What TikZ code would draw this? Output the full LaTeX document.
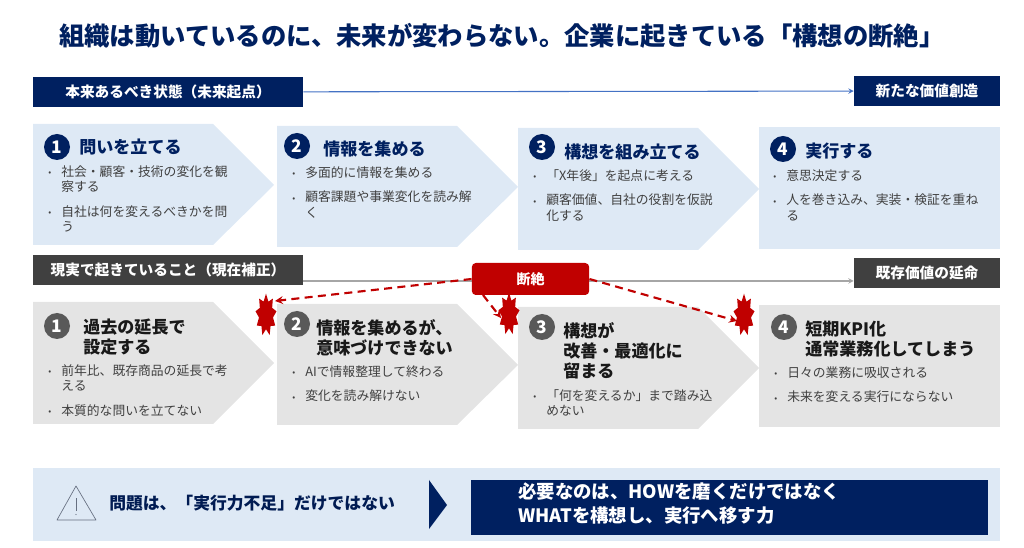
\documentclass[tikz,border=0pt]{standalone}
\usepackage{fontspec}
\setmainfont{Noto Sans CJK JP}
\usetikzlibrary{shapes.geometric}
\definecolor{navy}{HTML}{002060}
\definecolor{palefill}{HTML}{DEE9F5}
\definecolor{greyfill}{HTML}{E4E4E4}
\definecolor{darkbar}{HTML}{404040}
\definecolor{gapred}{HTML}{C00000}
\newcommand*{\Bul}{\makebox[9.8pt][l]{\raisebox{0.5pt}{\fontsize{6.5}{6.5}\selectfont\textbullet}}}
\newcommand*{\Ind}{\hspace*{9.8pt}}
\tikzset{
	barnavy/.style={fill=navy, text=white, inner sep=0pt, font=\fontsize{11}{13}\bfseries},
	bargrey/.style={fill=darkbar, text=white, inner sep=0pt, font=\fontsize{11}{13}\bfseries},
	numnavy/.style={circle, fill=navy, text=white, inner sep=0pt, minimum size=19.5pt, font=\fontsize{13}{13}\bfseries},
	numgrey/.style={circle, fill=black!65, text=white, inner sep=0pt, minimum size=19.5pt, font=\fontsize{13}{13}\bfseries},
	headnavy/.style={anchor=west, inner sep=0pt, text=navy, font=\fontsize{12.8}{15}\bfseries},
	headgrey/.style={anchor=west, inner sep=0pt, align=left, text=black!90, font=\fontsize{12.8}{15.2}\bfseries},
	item/.style={anchor=north west, inner sep=0pt, align=left, text=darkbar, font=\fontsize{9.6}{11.5}\selectfont},
	burst/.style={star, star points=9, star point ratio=1.5, fill=gapred, minimum size=32pt, xscale=.5, inner sep=0pt, transform shape},
	dasharrow/.style={draw=gapred, line width=1.6pt, dash pattern=on 6pt off 4pt, ->, >=stealth},
}
\begin{document}
\begin{tikzpicture}[x=.75pt, y=-.75pt]
	\useasboundingbox (0,0) rectangle (1024,548);
	\node[anchor=west, inner sep=0pt, text=navy, font=\fontsize{19}{22}\bfseries] (title) at (59,36) {組織は動いているのに、未来が変わらない。企業に起きている「構想の断絶」};

	% future row
	\node[barnavy, minimum width=202.5pt, minimum height=22.5pt] (future) at (168,92) {本来あるべき状態（未来起点）};
	\node[barnavy, minimum width=109.5pt, minimum height=22.5pt] (newvalue) at (927,91) {新たな価値創造};
	\draw[draw=blue!45!black!40!cyan!20!blue!60, color=black!0, draw={rgb,255:red,68;green,114;blue,196}, line width=.8pt, ->, >=stealth] (future) -- (newvalue);
	\fill[palefill] (33,124) -- (213,124) -- (274,185) -- (213,245) -- (33,245) -- cycle;
	\fill[palefill] (277,126) -- (457,126) -- (518,187) -- (457,247) -- (277,247) -- cycle;
	\fill[palefill] (518,128) -- (698,128) -- (759,189) -- (698,250) -- (518,250) -- cycle;
	\fill[palefill] (759,127) rectangle (1000,249);
	\node[numnavy] (n1) at (57,147) {1};
	\node[headnavy] (h1) at (79,147) {問いを立てる};
	\node[item] (t1) at (48,165) {\Bul 社会・顧客・技術の変化を観\\\Ind 察する\\[7pt]\Bul 自社は何を変えるべきかを問\\\Ind う};
	\node[numnavy] (n2) at (297,146) {2};
	\node[headnavy] (h2) at (323,149) {情報を集める};
	\node[item] (t2) at (292,166) {\Bul 多面的に情報を集める\\[7pt]\Bul 顧客課題や事業変化を読み解\\\Ind く};
	\node[numnavy] (n3) at (542,147) {3};
	\node[headnavy] (h3) at (564,152) {構想を組み立てる};
	\node[item] (t3) at (533,169) {\Bul 「X年後」を起点に考える\\[7pt]\Bul 顧客価値、自社の役割を仮説\\\Ind 化する};
	\node[numnavy] (n4) at (783,149) {4};
	\node[headnavy] (h4) at (805,151) {実行する};
	\node[item] (t4) at (773,169) {\Bul 意思決定する\\[7pt]\Bul 人を巻き込み、実装・検証を重ね\\\Ind る};

	% current row
	\node[bargrey, minimum width=202.5pt, minimum height=22.5pt] (current) at (168,270) {現実で起きていること（現在補正）};
	\node[bargrey, minimum width=109.5pt, minimum height=22.5pt] (oldvalue) at (927,273) {既存価値の延命};
	\draw[draw=black!35, line width=.8pt, ->, >=stealth] (303,281) -- (oldvalue.west |- 0,281);
	\fill[greyfill] (33,302) -- (213,302) -- (274,363) -- (213,424) -- (33,424) -- cycle;
	\fill[greyfill] (277,304) -- (457,304) -- (518,365) -- (457,425) -- (277,425) -- cycle;
	\fill[greyfill] (518,307) -- (698,307) -- (759,368) -- (698,429) -- (518,429) -- cycle;
	\fill[greyfill] (759,305) rectangle (1000,427);
	\node[numgrey] (g1) at (57,326) {1};
	\node[headgrey] (k1) at (83,337) {過去の延長で\\設定する};
	\node[item] (u1) at (48,364) {\Bul 前年比、既存商品の延長で考\\\Ind える\\[7pt]\Bul 本質的な問いを立てない};
	\node[numgrey] (g2) at (297,324) {2};
	\node[headgrey] (k2) at (316,338) {情報を集めるが、\\意味づけできない};
	\node[item] (u2) at (292,365) {\Bul AIで情報整理して終わる\\[7pt]\Bul 変化を読み解けない};
	\node[numgrey] (g3) at (542,327) {3};
	\node[headgrey] (k3) at (563,351) {構想が\\改善・最適化に\\留まる};
	\node[item] (u3) at (533,389) {\Bul 「何を変えるか」まで踏み込\\\Ind めない};
	\node[numgrey] (g4) at (784,327) {4};
	\node[headgrey] (k4) at (805,339) {短期KPI化\\通常業務化してしまう};
	\node[item] (u4) at (774,366) {\Bul 日々の業務に吸収される\\[7pt]\Bul 未来を変える実行にならない};

	% gap
	\node[burst] (b1) at (266,315) {};
	\node[burst] (b2) at (509,314) {};
	\node[burst] (b3) at (744,315) {};
	\node[fill=gapred, text=white, rounded corners=3pt, inner sep=0pt, minimum width=88pt, minimum height=24pt, font=\fontsize{10.5}{12}\bfseries] (gap) at (530.5,279) {断絶};
	\coordinate (e1) at (275,301);
	\coordinate (e2) at (501,318);
	\coordinate (e3) at (737,321);
	\coordinate (s2) at (483,295);
	\draw[dasharrow] (gap.west) -- (e1);
	\draw[dasharrow] (s2) -- (e2);
	\draw[dasharrow] (gap.east) -- (e3);

	% bottom band
	\fill[palefill] (33,468) rectangle (1000,541);
	\draw[draw=black!55!navy!60, line width=.5pt, line join=round] (76,486) -- (96,520) -- (57,520) -- cycle;
	\draw[draw=black!55!navy!60, line width=.5pt] (76,498) -- (76,511);
	\fill[black!55!navy!60] (76,514.5) circle (.7);
	\node[anchor=west, inner sep=0pt, text=navy!85!black, font=\fontsize{12.6}{15}\bfseries] (issue) at (109,503) {問題は、「実行力不足」だけではない};
	\fill[navy] (429,480) -- (447,505) -- (429,529) -- cycle;
	\node[anchor=west, fill=navy, minimum width=387.75pt, minimum height=41.25pt, inner sep=0pt] (need) at (471,507.5) {};
	\node[anchor=west, inner sep=0pt, align=left, text=white, font=\fontsize{13.8}{18}\bfseries] (needtext) at (518,504) {必要なのは、HOWを磨くだけではなく\\WHATを構想し、実行へ移す力};
\end{tikzpicture}
\end{document}
